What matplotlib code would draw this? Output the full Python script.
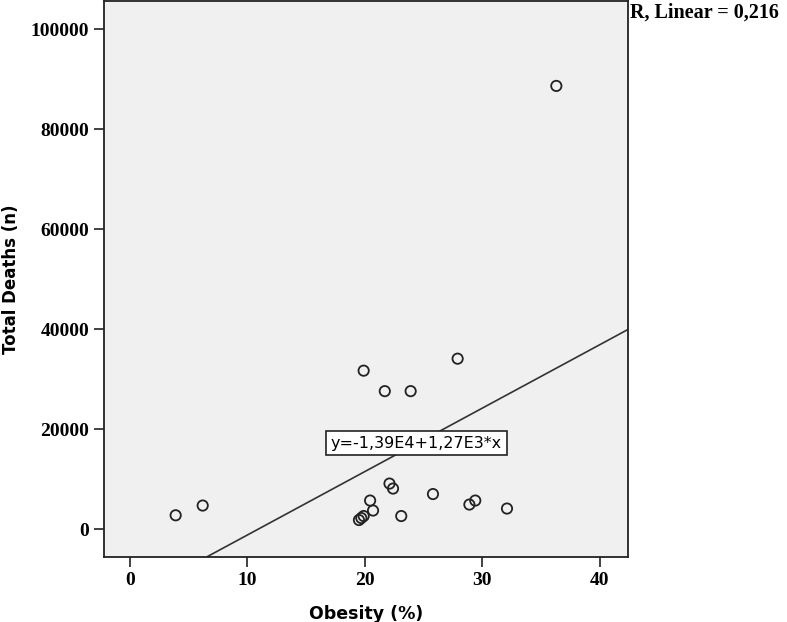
import numpy as np
import matplotlib
matplotlib.use('Agg')
import matplotlib.pyplot as plt

# Obesity (%) vs total deaths
obesity = [3.9, 6.2, 19.5, 19.7, 19.9, 19.9, 20.45, 20.7, 21.7, 22.1,
           22.4, 23.1, 23.9, 25.8, 27.9, 28.9, 29.4, 32.1, 36.3]
deaths = [2750, 4700, 1800, 2200, 2600, 31700, 5700, 3700, 27600, 9100,
          8100, 2600, 27600, 7000, 34100, 4900, 5700, 4100, 88700]

intercept = -1.39e4
slope = 1.27e3
eq_label = 'y=-1,39E4+1,27E3*x'
r2_label = 'R, Linear = 0,216'

fig = plt.figure(figsize=(7.87, 6.22), dpi=100)
ax = fig.add_axes([104 / 787, 65 / 622, 524 / 787, 556 / 622])
ax.set_facecolor('#f0f0f0')

ax.scatter(obesity, deaths, s=55, facecolors='none', edgecolors='#222222',
           linewidths=1.3, zorder=3)

xlim = (-2.2, 42.4)
ylim = (-5600, 105700)
xs = np.array(xlim)
ax.plot(xs, intercept + slope * xs, color='#333333', lw=1.2, zorder=2)
ax.set_xlim(xlim)
ax.set_ylim(ylim)

ax.text(24.4, 17200, eq_label, ha='center', va='center', fontsize=11.5,
        family='DejaVu Sans', zorder=4,
        bbox=dict(boxstyle='square,pad=0.3', fc='white', ec='#222222', lw=1.2))

ax.set_xticks([0, 10, 20, 30, 40])
ax.set_yticks([0, 20000, 40000, 60000, 80000, 100000])
ax.tick_params(direction='out', length=7, width=1.2, color='#222222')
for lab in ax.get_xticklabels() + ax.get_yticklabels():
    lab.set_family('Liberation Serif')
    lab.set_fontweight('bold')
    lab.set_fontsize(14)

for sp in ax.spines.values():
    sp.set_linewidth(1.3)
    sp.set_color('#222222')

ax.set_xlabel('Obesity (%)', fontsize=12.5, fontweight='bold', labelpad=12)
ax.set_ylabel('Total Deaths (n)', fontsize=12, fontweight='bold', labelpad=8)

fig.text(630 / 787, 1 - 13 / 622, r2_label, ha='left', va='center',
         family='Liberation Serif', fontweight='bold', fontsize=14.5)

fig.savefig('out.png', dpi=100)
